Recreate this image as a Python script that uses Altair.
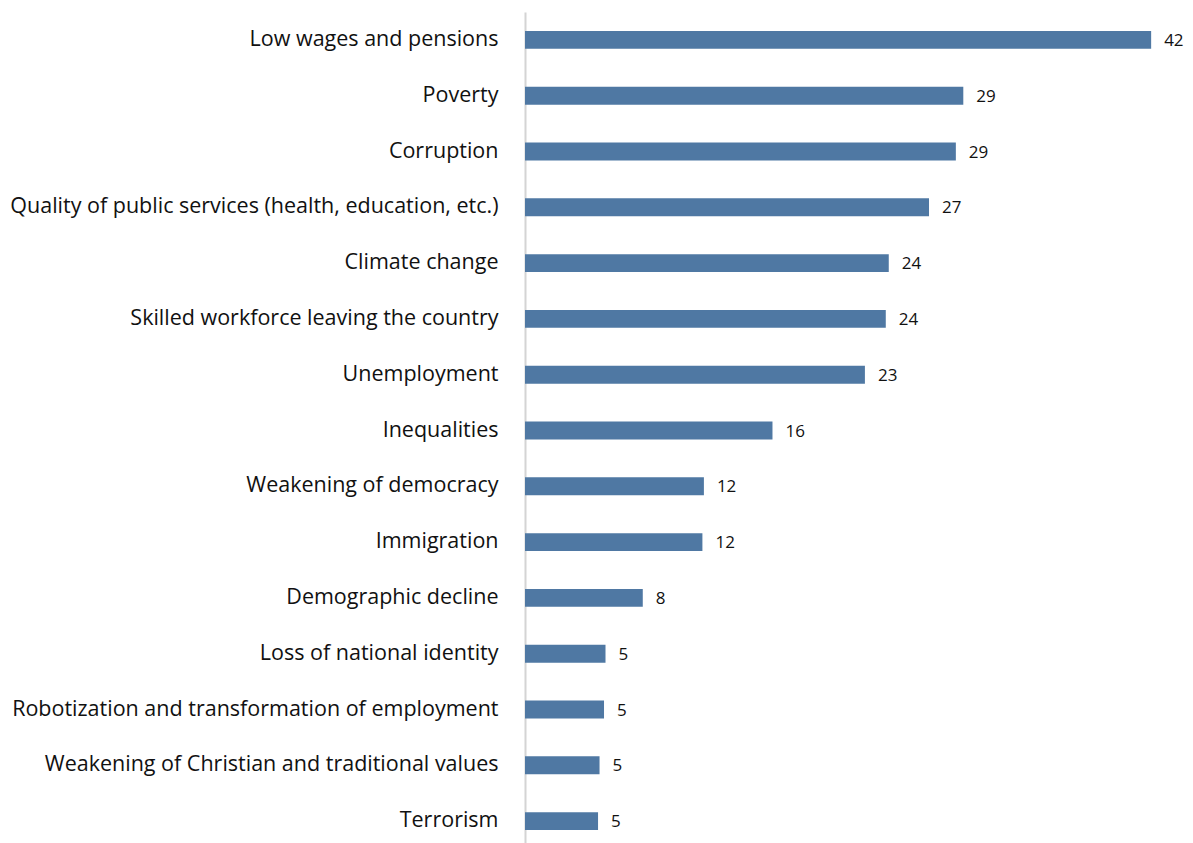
import altair as alt
import pandas as pd

categories = [
    "Low wages and pensions",
    "Poverty",
    "Corruption",
    "Quality of public services (health, education, etc.)",
    "Climate change",
    "Skilled workforce leaving the country",
    "Unemployment",
    "Inequalities",
    "Weakening of democracy",
    "Immigration",
    "Demographic decline",
    "Loss of national identity",
    "Robotization and transformation of employment",
    "Weakening of Christian and traditional values",
    "Terrorism",
]
values = [42.0, 29.4, 28.9, 27.1, 24.4, 24.2, 22.8, 16.6, 12.0, 11.9, 7.9, 5.4, 5.3, 5.0, 4.9]
value_labels = ["42", "29", "29", "27", "24", "24", "23", "16", "12", "12", "8", "5", "5", "5", "5"]

df = pd.DataFrame({"category": categories, "value": values, "label": value_labels})

FONT = "Open Sans"

y_enc = alt.Y(
    "category:N",
    sort=categories,
    scale=alt.Scale(paddingInner=0.68, paddingOuter=0.34),
    axis=alt.Axis(
        title=None,
        ticks=False,
        domain=True,
        domainColor="#D4D4D4",
        domainWidth=2,
        labelFont=FONT,
        labelFontSize=21.5,
        labelColor="#111111",
        labelPadding=27,
        labelLimit=600,
        grid=False,
    ),
)

x_scale = alt.Scale(domain=[0, 43.6], nice=False, zero=True)

bars = alt.Chart(df).mark_bar(color="#4F78A3").encode(
    x=alt.X("value:Q", scale=x_scale, axis=None),
    y=y_enc,
)

text = alt.Chart(df).mark_text(
    align="left", baseline="middle", dx=13, dy=1, font=FONT, fontSize=17, color="#111111"
).encode(
    x=alt.X("value:Q", scale=x_scale, axis=None),
    y=alt.Y("category:N", sort=categories),
    text="label:N",
)

chart = (bars + text).properties(
    width=650,
    height=837,
    background="white",
    autosize=alt.AutoSizeParams(type="none"),
    padding={"left": 517, "top": 4, "right": 10, "bottom": 0},
).configure_view(stroke=None)

chart.save("out.html", embed_options={"renderer": "svg", "actions": False})
